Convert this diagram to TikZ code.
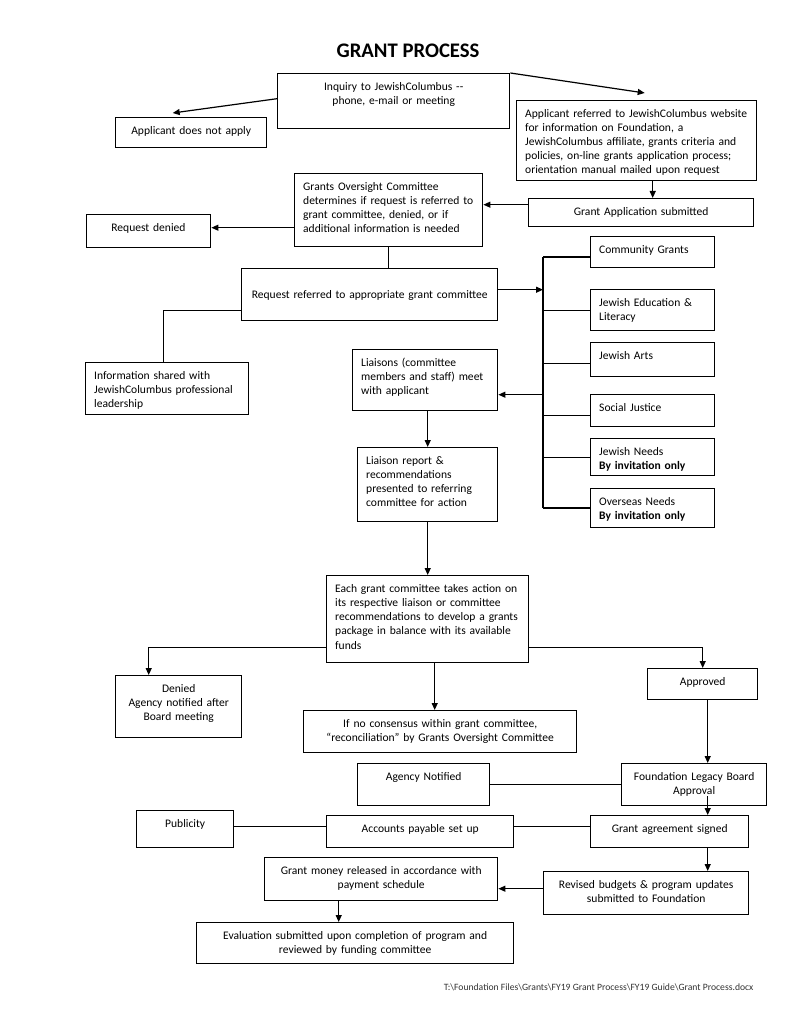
\documentclass[tikz,border=0pt]{standalone}
\usepackage{fontspec}
\setmainfont{Carlito}
\usepackage{tikz}
\usetikzlibrary{arrows.meta,positioning}

\tikzset{
    box/.style={draw, line width=1.4pt, anchor=north west, inner xsep=8.5pt, inner ysep=4pt,
        text height=12.5pt, font=\fontsize{11.55}{14.2}\selectfont},
    boxsize/.code 2 args={%
        \pgfmathsetlengthmacro\grantwd{#1-17}%
        \pgfmathsetlengthmacro\grantdp{#2-20.5}%
        \edef\grantnext{\noexpand\pgfkeysalso{text width=\grantwd, text depth=\grantdp}}\grantnext},
    arr/.style={line width=1.2pt, -{Triangle[length=7pt,width=6pt]}},
    conn/.style={line width=1.2pt},
}

\begin{document}
\begin{tikzpicture}[x=1pt, y=-1pt]
    \useasboundingbox[fill=white] (0,0) rectangle (792,1024);

    \node[font=\fontsize{20.7}{24}\selectfont\bfseries, anchor=base] (title) at (408,57.5) {GRANT PROCESS};

    \node[box, boxsize={232}{55}, align=center] (inquiry) at (277,73) {Inquiry to JewishColumbus -{}-\\phone, e-mail or meeting};
    \node[box, boxsize={151}{30}, align=center] (noapply) at (115,117) {Applicant does not apply};
    \node[box, boxsize={240}{80}, align=left] (referred) at (516,100) {\mbox{Applicant referred to JewishColumbus website}\\\mbox{for information on Foundation, a}\\\mbox{JewishColumbus affiliate, grants criteria and}\\\mbox{policies, on-line grants application process;}\\\mbox{orientation manual mailed upon request}};
    \node[box, boxsize={188}{73}, align=left] (oversight) at (294,173) {\mbox{Grants Oversight Committee}\\\mbox{determines if request is referred to}\\\mbox{grant committee, denied, or if}\\\mbox{additional information is needed}};
    \node[box, boxsize={124.5}{33}, align=center] (reqdenied) at (85.5,214) {Request denied};
    \node[box, boxsize={225}{28}, align=center] (submitted) at (528,198) {Grant Application submitted};
    \node[box, boxsize={256}{52}, align=center, text height=25.5pt, text depth=18.5pt] (reqref) at (241,268) {Request referred to appropriate grant committee};
    \node[box, boxsize={163}{52}, align=left] (info) at (85,362) {Information shared with\\JewishColumbus professional\\leadership};

    \node[box, boxsize={124}{31}, align=left] (community) at (590,236) {Community Grants};
    \node[box, boxsize={124}{41}, align=left] (education) at (590,289) {Jewish Education \&\\Literacy};
    \node[box, boxsize={124}{34}, align=left] (arts) at (590,342) {Jewish Arts};
    \node[box, boxsize={124}{32}, align=left] (justice) at (590,394) {Social Justice};
    \node[box, boxsize={124}{37}, align=left] (needs) at (590,438) {Jewish Needs\\\textbf{By invitation only}};
    \node[box, boxsize={124}{39}, align=left] (overseas) at (590,488) {Overseas Needs\\\textbf{By invitation only}};

    \node[box, boxsize={145}{61}, align=left] (liaisons) at (352,349) {\mbox{Liaisons (committee}\\\mbox{members and staff) meet}\\with applicant};
    \node[box, boxsize={140}{74}, align=left] (report) at (357,447) {Liaison report \&\\recommendations\\\mbox{presented to referring}\\committee for action};
    \node[box, boxsize={202}{87}, align=left] (action) at (326,575) {\mbox{Each grant committee takes action on}\\\mbox{its respective liaison or committee}\\\mbox{recommendations to develop a grants}\\\mbox{package in balance with its available}\\funds};

    \node[box, boxsize={126}{62}, align=center] (denied) at (115,675) {Denied\\Agency notified after\\Board meeting};
    \node[box, boxsize={110}{31}, align=center] (approved) at (647,668) {Approved};
    \node[box, boxsize={273}{42}, align=center] (consensus) at (303,710) {If no consensus within grant committee,\\\mbox{``reconciliation'' by Grants Oversight Committee}};
    \node[box, boxsize={132}{42}, align=center] (agency) at (357,763) {Agency Notified};
    \node[box, boxsize={145}{42}, align=center] (legacy) at (621,763) {\mbox{Foundation Legacy Board}\\Approval};
    \node[box, boxsize={97}{37}, align=center] (publicity) at (136,810) {Publicity};
    \node[box, boxsize={187}{32}, align=center] (accounts) at (326,815) {Accounts payable set up};
    \node[box, boxsize={158}{32}, align=center] (agreement) at (590,815) {Grant agreement signed};
    \node[box, boxsize={233}{43}, align=center] (release) at (264,857) {\mbox{Grant money released in accordance with}\\payment schedule};
    \node[box, boxsize={205}{43}, align=center] (revised) at (543,871) {\mbox{Revised budgets \& program updates}\\submitted to Foundation};
    \node[box, boxsize={317}{41}, align=center] (evaluation) at (196,922) {\mbox{Evaluation submitted upon completion of program and}\\reviewed by funding committee};

    \node[anchor=base east, font=\fontsize{9.65}{11}\selectfont, text=black!80] (docpath) at (757,990) {T:\textbackslash Foundation Files\textbackslash Grants\textbackslash FY19 Grant Process\textbackslash FY19 Guide\textbackslash Grant Process.docx};

    \coordinate (bustop) at (543,257);
    \coordinate (busbot) at (543,508);

    \draw[arr] (inquiry.north east) -- ([xshift=8pt,yshift=7pt]referred.north);
    \draw[arr] ([yshift=2.5pt]inquiry.west) -- ([xshift=-18.5pt,yshift=4pt]noapply.north);
    \draw[arr] ([xshift=16pt]referred.south) -- ([xshift=16pt]referred.south |- submitted.north);
    \draw[arr] ([yshift=8pt]submitted.west) -- ([yshift=8pt]submitted.west -| oversight.east);
    \draw[arr] ([yshift=3.5pt]reqdenied.east -| oversight.west) -- ([yshift=3.5pt]reqdenied.east);
    \draw[conn] (oversight.south) -- (oversight.south |- reqref.north);
    \draw[conn] ([yshift=-16pt]reqref.west) -| ([xshift=-3.5pt]info.north);

    \draw[arr] ([yshift=5pt]reqref.east) -- ([yshift=5pt]reqref.east -| bustop);
    \draw[conn] (bustop) -- (busbot);
    \draw[conn] (bustop) -- (bustop -| community.west);
    \draw[conn] (education.west -| bustop) -- (education.west);
    \draw[conn] ([yshift=-3.5pt]arts.west -| bustop) -- ([yshift=-3.5pt]arts.west);
    \draw[conn] ([yshift=-4.5pt]justice.west -| bustop) -- ([yshift=-4.5pt]justice.west);
    \draw[conn] (needs.west -| bustop) -- (needs.west);
    \draw[conn] (busbot) -- (busbot -| overseas.west);
    \draw[arr] ([yshift=-14.5pt]liaisons.east -| bustop) -- ([yshift=-14.5pt]liaisons.east);

    \draw[arr] (report.north |- liaisons.south) -- (report.north);
    \draw[arr] (report.south) -- (report.south |- action.north);
    \draw[arr] ([yshift=-28.5pt]action.west) -| ([xshift=-30pt]denied.north);
    \draw[arr] ([yshift=-28.5pt]action.east) -| (approved.north);
    \draw[arr] ([xshift=-5.5pt]consensus.north |- action.south) -- ([xshift=-5.5pt]consensus.north);

    \draw[arr] ([xshift=5pt]approved.south) -- ([xshift=5pt]approved.south |- legacy.north);
    \draw[conn] (agency.east) -- (agency.east -| legacy.west);
    \draw[arr] ([xshift=13.5pt,yshift=10pt]legacy.south) -- ([xshift=13.5pt]legacy.south |- agreement.north);
    \draw[conn] ([yshift=5pt]accounts.west) -- ([yshift=5pt]accounts.west -| publicity.east);
    \draw[conn] ([yshift=5pt]accounts.east) -- ([yshift=5pt]accounts.east -| agreement.west);
    \draw[arr] ([xshift=38pt]agreement.south) -- ([xshift=38pt]agreement.south |- revised.north);
    \draw[arr] ([yshift=4.5pt]revised.west) -- ([yshift=4.5pt]revised.west -| release.east);
    \draw[arr] ([xshift=-42.5pt]release.south) -- ([xshift=-42.5pt]release.south |- evaluation.north);
\end{tikzpicture}
\end{document}
